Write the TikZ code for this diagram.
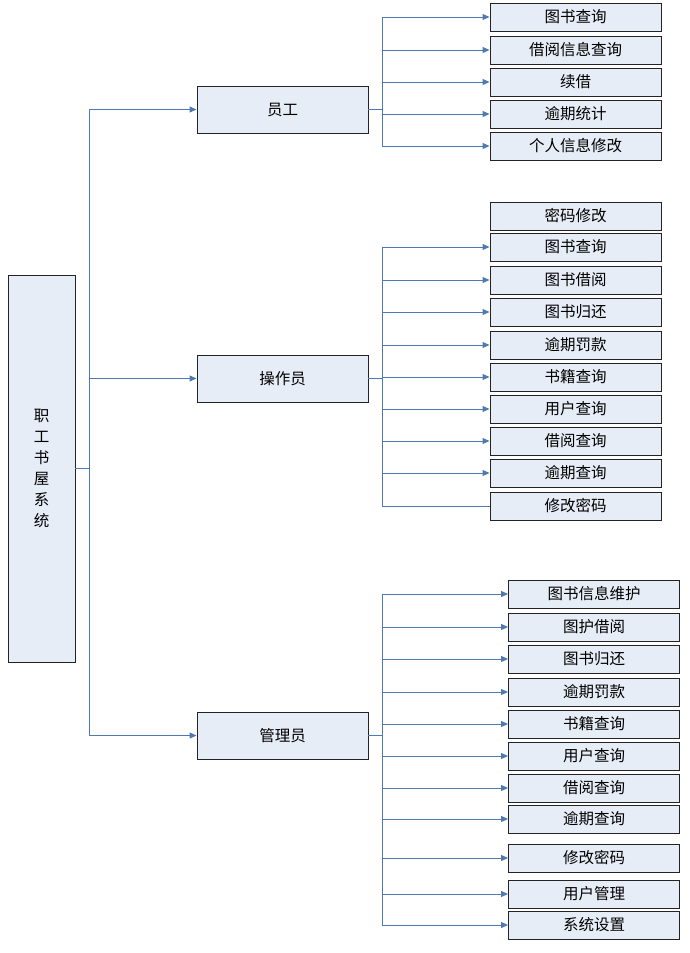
\documentclass[tikz,border=0pt]{standalone}
\usepackage{fontspec}
\setmainfont{Noto Sans CJK SC}
\usetikzlibrary{calc, arrows.meta}
\definecolor{boxfill}{RGB}{231, 237, 247}
\definecolor{boxline}{RGB}{35, 35, 35}
\definecolor{linkblue}{RGB}{79, 121, 178}
\tikzset{
    rootnode/.style={
        draw=boxline, line width=0.9pt, fill=boxfill, minimum width=67pt,
        minimum height=387pt, inner sep=0pt, align=center,
        font=\fontsize{15.5}{21}\selectfont
    },
    rolenode/.style={
        draw=boxline, line width=0.9pt, fill=boxfill, minimum width=171pt,
        minimum height=47pt, inner sep=0pt, font=\fontsize{15.5}{18}\selectfont
    },
    funcnode/.style={
        draw=boxline, line width=0.9pt, fill=boxfill, minimum width=171pt,
        minimum height=28pt, inner sep=0pt, font=\fontsize{15.5}{18}\selectfont
    },
    link/.style={
        draw=linkblue, line width=1pt
    },
    ptr/.style={
        ->, >={Triangle[length=7pt,width=6pt]}, linkblue, line width=1pt
    }
}
\begin{document}
\begin{tikzpicture}[x=1pt, y=-1pt]
    \useasboundingbox (0,0) rectangle (690,953);

    % --- 1. 根节点与角色 ---
    \node[rootnode] (root) at (41.5,468.5) {职\\工\\书\\屋\\系\\统};
    \node[rolenode] (yg)  at (282.5,109.5) {员工};
    \node[rolenode] (czy) at (282.5,378.5) {操作员};
    \node[rolenode] (gly) at (282.5,735.5) {管理员};

    % --- 2. 员工功能 ---
    \node[funcnode] (yg1) at (575.5,17)  {图书查询};
    \node[funcnode] (yg2) at (575.5,50)  {借阅信息查询};
    \node[funcnode] (yg3) at (575.5,82)  {续借};
    \node[funcnode] (yg4) at (575.5,114) {逾期统计};
    \node[funcnode] (yg5) at (575.5,146) {个人信息修改};

    % --- 3. 操作员功能 ---
    \node[funcnode] (cz0) at (575.5,216) {密码修改};
    \node[funcnode] (cz1) at (575.5,247) {图书查询};
    \node[funcnode] (cz2) at (575.5,280) {图书借阅};
    \node[funcnode] (cz3) at (575.5,312) {图书归还};
    \node[funcnode] (cz4) at (575.5,345) {逾期罚款};
    \node[funcnode] (cz5) at (575.5,377) {书籍查询};
    \node[funcnode] (cz6) at (575.5,409) {用户查询};
    \node[funcnode] (cz7) at (575.5,441) {借阅查询};
    \node[funcnode] (cz8) at (575.5,473) {逾期查询};
    \node[funcnode] (cz9) at (575.5,506) {修改密码};

    % --- 4. 管理员功能 ---
    \node[funcnode] (gl1)  at (594,594) {图书信息维护};
    \node[funcnode] (gl2)  at (594,627) {图护借阅};
    \node[funcnode] (gl3)  at (594,659) {图书归还};
    \node[funcnode] (gl4)  at (594,692) {逾期罚款};
    \node[funcnode] (gl5)  at (594,724) {书籍查询};
    \node[funcnode] (gl6)  at (594,756) {用户查询};
    \node[funcnode] (gl7)  at (594,788) {借阅查询};
    \node[funcnode] (gl8)  at (594,819) {逾期查询};
    \node[funcnode] (gl9)  at (594,858) {修改密码};
    \node[funcnode] (gl10) at (594,894) {用户管理};
    \node[funcnode] (gl11) at (594,925) {系统设置};

    % --- 5. 连线 ---
    \coordinate (trunk) at ($(root.east)+(14,0)$);
    \draw[link] (root.east) -- (trunk);
    \draw[ptr] (trunk) |- (yg.west);
    \draw[ptr] (trunk) |- (czy.west);
    \draw[ptr] (trunk) |- (gly.west);

    \coordinate (ygbus) at ($(yg.east)+(14,0)$);
    \draw[link] (yg.east) -- (ygbus);
    \draw[ptr] (ygbus) |- (yg1.west);
    \draw[ptr] (ygbus) |- (yg2.west);
    \draw[ptr] (ygbus) |- (yg3.west);
    \draw[ptr] (ygbus) |- (yg4.west);
    \draw[ptr] (ygbus) |- (yg5.west);

    \coordinate (czbus) at ($(czy.east)+(14,0)$);
    \draw[link] (czy.east) -- (czbus);
    \draw[ptr] (czbus) |- (cz1.west);
    \draw[ptr] (czbus) |- (cz2.west);
    \draw[ptr] (czbus) |- (cz3.west);
    \draw[ptr] (czbus) |- (cz4.west);
    \draw[ptr] (czbus) |- (cz5.west);
    \draw[ptr] (czbus) |- (cz6.west);
    \draw[ptr] (czbus) |- (cz7.west);
    \draw[ptr] (czbus) |- (cz8.west);
    \draw[link] (czbus) |- (cz9.west); % 最后一条没有箭头

    \coordinate (glbus) at ($(gly.east)+(14,0)$);
    \draw[link] (gly.east) -- (glbus);
    \draw[ptr] (glbus) |- (gl1.west);
    \draw[ptr] (glbus) |- (gl2.west);
    \draw[ptr] (glbus) |- (gl3.west);
    \draw[ptr] (glbus) |- (gl4.west);
    \draw[ptr] (glbus) |- (gl5.west);
    \draw[ptr] (glbus) |- (gl6.west);
    \draw[ptr] (glbus) |- (gl7.west);
    \draw[ptr] (glbus) |- (gl8.west);
    \draw[ptr] (glbus) |- (gl9.west);
    \draw[ptr] (glbus) |- (gl10.west);
    \draw[ptr] (glbus) |- (gl11.west);
\end{tikzpicture}
\end{document}
